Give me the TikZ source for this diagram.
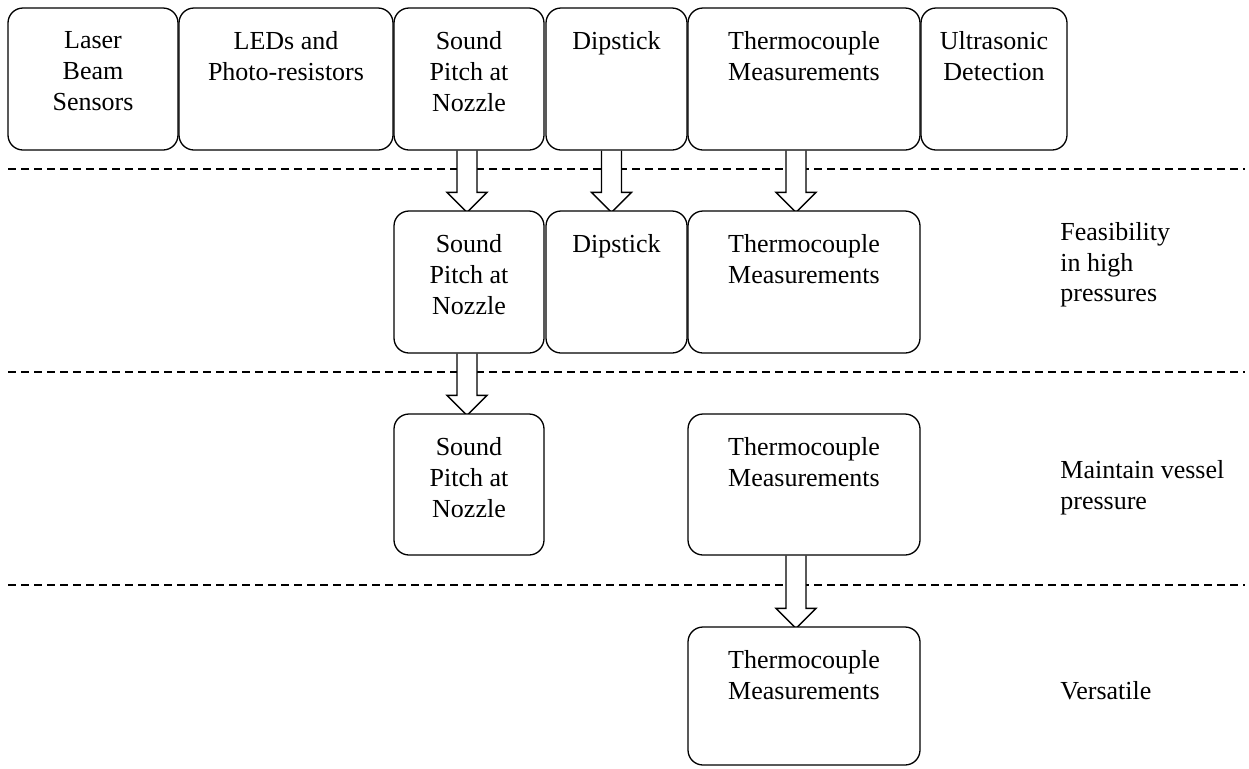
\documentclass[tikz,border=0pt]{standalone}
\usepackage{fontspec}
\setmainfont{Liberation Serif}
\usetikzlibrary{calc,backgrounds}

\begin{document}
\begin{tikzpicture}[
    x=0.5pt, y=-0.5pt,
    box/.style={draw, fill=white, rounded corners=7.5pt, line width=0.65pt, inner sep=0pt},
    txt/.style={font=\fontsize{13}{15.35}\selectfont, align=center, anchor=north, inner sep=0pt},
    side/.style={font=\fontsize{13}{15.35}\selectfont, align=left, anchor=north west, inner sep=0pt},
    sep/.style={line width=0.65pt, dash pattern=on 4pt off 2.5pt},
    harrow/.style={draw, fill=white, line width=0.65pt, line join=miter}
]
    \useasboundingbox (0,0) rectangle (1249,768);

    % first row: all candidate methods
    \node[box, minimum width=85pt, minimum height=71pt] (l1) at (93,79) {};
    \node[box, minimum width=107pt, minimum height=71pt] (e1) at (286,79) {};
    \node[box, minimum width=75pt, minimum height=71pt] (s1) at (469,79) {};
    \node[box, minimum width=70.5pt, minimum height=71pt] (d1) at (616.5,79) {};
    \node[box, minimum width=116pt, minimum height=71pt] (t1) at (804,79) {};
    \node[box, minimum width=73pt, minimum height=71pt] (u1) at (994,79) {};
    \node[txt] (l1t) at ($(l1.north)+(0,24)$) {Laser\\Beam\\Sensors};
    \node[txt] (e1t) at ($(e1.north)+(0,24)$) {LEDs and\\Photo-resistors};
    \node[txt] (s1t) at ($(s1.north)+(0,24)$) {Sound\\Pitch at\\Nozzle};
    \node[txt] (d1t) at ($(d1.north)+(0,24)$) {Dipstick};
    \node[txt] (t1t) at ($(t1.north)+(0,24)$) {Thermocouple\\Measurements};
    \node[txt] (u1t) at ($(u1.north)+(0,24)$) {Ultrasonic\\Detection};

    % second row
    \node[box, minimum width=75pt, minimum height=71pt] (s2) at (469,282) {};
    \node[box, minimum width=70.5pt, minimum height=71pt] (d2) at (616.5,282) {};
    \node[box, minimum width=116pt, minimum height=71pt] (t2) at (804,282) {};
    \node[txt] (s2t) at ($(s2.north)+(0,24)$) {Sound\\Pitch at\\Nozzle};
    \node[txt] (d2t) at ($(d2.north)+(0,24)$) {Dipstick};
    \node[txt] (t2t) at ($(t2.north)+(0,24)$) {Thermocouple\\Measurements};
    \node[side] (f2) at (1060,222) {Feasibility\\in high\\pressures};

    % third row
    \node[box, minimum width=75pt, minimum height=70.5pt] (s3) at (469,484.5) {};
    \node[box, minimum width=116pt, minimum height=70.5pt] (t3) at (804,484.5) {};
    \node[txt] (s3t) at ($(s3.north)+(0,24)$) {Sound\\Pitch at\\Nozzle};
    \node[txt] (t3t) at ($(t3.north)+(0,24)$) {Thermocouple\\Measurements};
    \node[side] (f3) at (1060,460) {Maintain vessel\\pressure};

    % fourth row
    \node[box, minimum width=116pt, minimum height=69pt] (t4) at (804,696) {};
    \node[txt] (t4t) at ($(t4.north)+(0,24)$) {Thermocouple\\Measurements};
    \node[side] (f4) at (1060,681) {Versatile};

    \begin{pgfonlayer}{background}
        \foreach \y in {169,372,585}
            \draw[sep] (8,\y) -- (1245,\y);
        \foreach \a/\b/\dx in {s1/s2/-2, d1/d2/-5, t1/t2/-8, s2/s3/-2, t3/t4/-8}
            \draw[harrow] ($(\a.south)+(\dx-10,0)$) -- ($(\b.north)+(\dx-10,-18)$)
                -- ($(\b.north)+(\dx-20,-18)$) -- ($(\b.north)+(\dx,2)$)
                -- ($(\b.north)+(\dx+20,-18)$) -- ($(\b.north)+(\dx+10,-18)$)
                -- ($(\a.south)+(\dx+10,0)$);
    \end{pgfonlayer}
\end{tikzpicture}
\end{document}
